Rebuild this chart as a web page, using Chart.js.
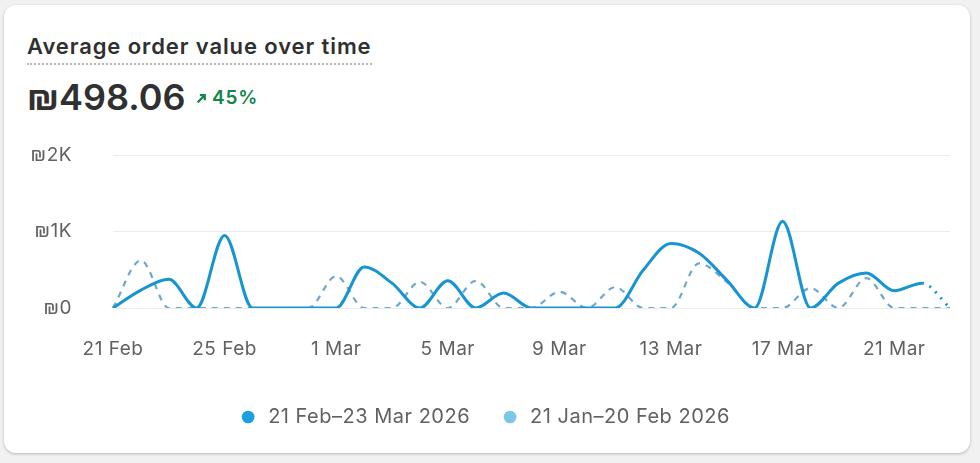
<!DOCTYPE html>
<html lang="en">

<head>
    <meta charset="UTF-8">
    <title>Average order value over time</title>
    <style>
        body { margin: 0; background: #f1f1f1; font-family: Inter, "Noto Sans", sans-serif; }
        .card {
            position: absolute; left: 4px; top: 5px; width: 966px; height: 448px;
            background: #fff; border-radius: 12px;
            box-shadow: 0 1px 3px rgba(0, 0, 0, 0.25);
        }
        .title {
            position: absolute; left: 27px; top: 34px;
            font-size: 22px; font-weight: 600; color: #303030; letter-spacing: 0.9px;
            line-height: 24px; padding-bottom: 5px;
            border-bottom: 2px dotted #b8b8b8;
        }
        .value {
            position: absolute; left: 27px; top: 74px;
            font-size: 36px; font-weight: 600; color: #303030; line-height: 46px;
        }
        .delta {
            position: absolute; left: 196px; top: 86px;
            font-size: 19px; font-weight: 600; color: #13854b; line-height: 24px; letter-spacing: 0.8px;
        }
        .delta svg { vertical-align: 0px; margin-right: 5px; }
        #wrap { position: absolute; left: 0; top: 130px; width: 980px; height: 310px; }
    </style>
</head>

<body>

    <div class="card"></div>
    <div class="title">Average order value over time</div>
    <div class="value">₪498.06</div>
    <div class="delta"><svg width="11" height="11" viewBox="0 0 10 10"><path d="M1.5 8.5 L8 2 M3.5 2 H8 V6.5" stroke="#13854b" stroke-width="2" fill="none"/></svg>45%</div>

    <div id="wrap">
        <canvas id="myChart"></canvas>
    </div>

    <script src="https://cdn.jsdelivr.net/npm/chart.js@4.4.1/dist/chart.umd.min.js"></script>

    <script>

        const days = ['21 Feb', '22 Feb', '23 Feb', '24 Feb', '25 Feb', '26 Feb', '27 Feb', '28 Feb',
            '1 Mar', '2 Mar', '3 Mar', '4 Mar', '5 Mar', '6 Mar', '7 Mar', '8 Mar', '9 Mar', '10 Mar',
            '11 Mar', '12 Mar', '13 Mar', '14 Mar', '15 Mar', '16 Mar', '17 Mar', '18 Mar', '19 Mar',
            '20 Mar', '21 Mar', '22 Mar', '23 Mar'];

        const currentPeriod = [0, 234, 377, 0, 948, 0, 0, 0, 0, 537, 325, 0, 355, 0, 195, 0,
            0, 0, 0, 494, 844, 718, 364, 0, 1134, 0, 325, 459, 225, 325, 0];

        const previousPeriod = [0, 623, 0, 0, 0, 0, 0, 0, 416, 0, 0, 342, 0, 355, 0, 0,
            212, 0, 273, 0, 0, 584, 340, 0, 0, 260, 0, 390, 0, 0, 0];

        const seriesNames = ['21 Feb–23 Mar 2026', '21 Jan–20 Feb 2026'];
        const yTicks = [0, 1000, 2000];

        const blue = '#1795d3';
        const lightBlue = '#6ea8c8';
        const legendColors = ['#1a9fe0', '#7cc6e6'];
        const lastIdx = currentPeriod.length - 1;
        const tickFont = { family: 'Inter', size: 19 };

        // a bit of tracking on canvas text, like the reference
        const spacing = {
            id: 'spacing',
            beforeDraw: ch => { ch.ctx.letterSpacing = '0.5px'; }
        };

        const ctx = document.getElementById('myChart').getContext('2d');

        const chart = new Chart(ctx, {
            type: 'line',
            data: {
                labels: days,
                datasets: [{
                    label: seriesNames[0],
                    data: currentPeriod,
                    borderColor: blue,
                    borderWidth: 3,
                    pointRadius: 0,
                    cubicInterpolationMode: 'monotone',
                    segment: {
                        borderDash: c => c.p1DataIndex === lastIdx ? [2, 6] : undefined
                    }
                }, {
                    label: seriesNames[1],
                    data: previousPeriod,
                    borderColor: lightBlue,
                    borderWidth: 2.2,
                    borderDash: [6, 6],
                    pointRadius: 0,
                    cubicInterpolationMode: 'monotone'
                }]
            },
            options: {
                responsive: true,
                maintainAspectRatio: false,
                animation: false,
                layout: { padding: { top: 25, right: 30, bottom: 3, left: 0 } },
                plugins: {
                    tooltip: { enabled: false },
                    legend: {
                        position: 'bottom',
                        labels: {
                            usePointStyle: true,
                            boxWidth: 20,
                            boxHeight: 9,
                            padding: 30,
                            color: '#616161',
                            font: { family: 'Inter', size: 20 },
                            generateLabels: ch => ch.data.datasets.map((d, i) => ({
                                text: d.label,
                                fillStyle: legendColors[i],
                                strokeStyle: legendColors[i],
                                lineWidth: 0,
                                pointStyle: 'circle',
                                fontColor: '#616161',
                                datasetIndex: i
                            }))
                        }
                    }
                },
                scales: {
                    x: {
                        grid: { display: false, drawTicks: false },
                        border: { display: false },
                        ticks: {
                            autoSkip: false,
                            maxRotation: 0,
                            padding: 30,
                            color: '#616161',
                            font: tickFont,
                            callback: (v, i) => i % 4 === 0 ? days[i] : null
                        },
                        afterFit: s => { s.height = 69; }
                    },
                    y: {
                        min: 0,
                        max: 2000,
                        border: { display: false },
                        grid: { color: '#ebebeb', drawTicks: false },
                        afterBuildTicks: s => { s.ticks = yTicks.map(v => ({ value: v })); },
                        afterFit: s => {
                            s.width = 113;
                            s.paddingTop = 10;
                            s.paddingBottom = 10;
                        },
                        ticks: {
                            padding: 41,
                            color: '#616161',
                            font: tickFont,
                            callback: v => v === 0 ? '₪0' : '₪' + (v / 1000) + 'K'
                        }
                    }
                }
            },
            plugins: [spacing]
        });

    </script>

</body>

</html>
